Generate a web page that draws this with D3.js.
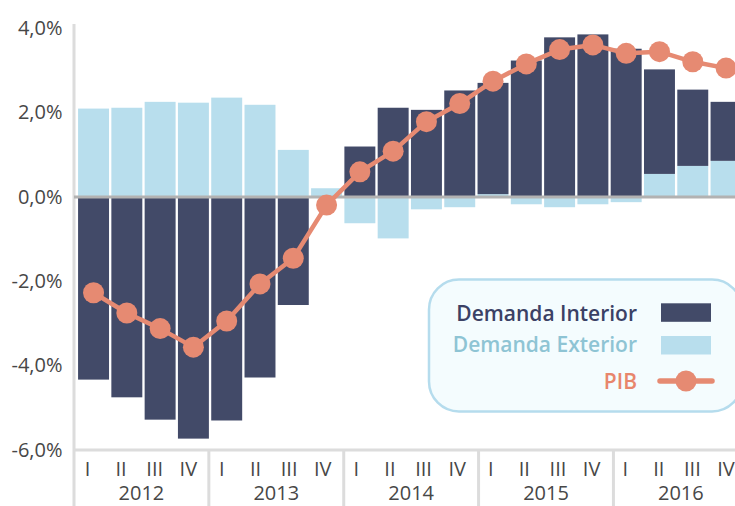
<!DOCTYPE html>
<html>
<head>
<meta charset="utf-8">
<script src="https://cdn.jsdelivr.net/npm/d3@7"></script>
<style>
  html, body { margin: 0; padding: 0; background: #ffffff; }
  svg { display: block; font-family: "Open Sans", "Noto Sans", sans-serif; }
</style>
</head>
<body>
<svg id="chart" width="735" height="506"></svg>
<script>
// ---- data ----
const years = ["2012", "2013", "2014", "2015", "2016"];
const quarterNames = ["I", "II", "III", "IV"];
const quarters = years.flatMap(y => quarterNames.map(q => y + "-" + q));
const interior = [-4.33, -4.75, -5.28, -5.73, -5.30, -4.28, -2.56, 0.00, 1.20, 2.12, 2.07, 2.53, 2.64, 3.24, 3.79, 3.86, 3.52, 2.48, 1.81, 1.40];
const exterior = [2.10, 2.12, 2.26, 2.24, 2.36, 2.19, 1.12, 0.21, -0.62, -0.98, -0.29, -0.24, 0.07, -0.17, -0.24, -0.17, -0.12, 0.55, 0.74, 0.86];
const pib = [-2.27, -2.75, -3.12, -3.56, -2.94, -2.06, -1.45, -0.19, 0.60, 1.09, 1.79, 2.22, 2.75, 3.16, 3.50, 3.61, 3.41, 3.45, 3.21, 3.06];
const yTicks = [4, 2, 0, -2, -4, -6];
const seriesNames = ["Demanda Interior", "Demanda Exterior", "PIB"];

// ---- style ----
const C = {
  interior: "#424a68",
  exterior: "#b8deed",
  pib: "#e68a72",
  axis: "#dcdcdc",
  zero: "#b2b2b2",
  text: "#474747"
};

const svg = d3.select("#chart");
const W = 735, H = 506;

const y = d3.scaleLinear().domain([-6, 4]).range([450, 28.5]);
const xBar = d3.scaleBand().domain(quarters).range([76.9, 742.7]).paddingInner(0.07).paddingOuter(0.035);
const xLab = d3.scalePoint().domain(quarters).range([87.5, 726]);
const xYear = d3.scaleBand().domain(years).range([74, 748.3]);

// stacked segments: exterior first, then interior
const segs = [];
quarters.forEach((q, i) => {
  let pos = 0, neg = 0;
  [["exterior", exterior[i]], ["interior", interior[i]]].forEach(([k, v]) => {
    if (v >= 0) { segs.push({ q, k, y0: pos, y1: pos + v }); pos += v; }
    else { segs.push({ q, k, y0: neg + v, y1: neg }); neg += v; }
  });
});

svg.append("g").selectAll("rect").data(segs).join("rect")
  .attr("x", d => xBar(d.q))
  .attr("width", xBar.bandwidth())
  .attr("y", d => y(d.y1))
  .attr("height", d => Math.max(0, y(d.y0) - y(d.y1)))
  .attr("fill", d => C[d.k]);

// axes lines
const axisG = svg.append("g");
axisG.append("line").attr("x1", 74).attr("x2", 74).attr("y1", 24).attr("y2", H)
  .attr("stroke", C.axis).attr("stroke-width", 3);
axisG.append("line").attr("x1", 74).attr("x2", W).attr("y1", y(-6) ).attr("y2", y(-6))
  .attr("stroke", C.axis).attr("stroke-width", 3);
axisG.selectAll("line.sep").data(years.slice(1)).join("line").attr("class", "sep")
  .attr("x1", d => xYear(d)).attr("x2", d => xYear(d))
  .attr("y1", y(-6)).attr("y2", H)
  .attr("stroke", C.axis).attr("stroke-width", 3);

// zero line
svg.append("line").attr("x1", 74).attr("x2", W).attr("y1", y(0)).attr("y2", y(0))
  .attr("stroke", C.zero).attr("stroke-width", 3);

// y labels
const fmt = v => d3.format(".1f")(v).replace(".", ",").replace("−", "-") + "%";
svg.append("g").selectAll("text").data(yTicks).join("text")
  .attr("x", 62.5).attr("y", d => y(d)).attr("dy", "0.33em")
  .attr("text-anchor", "end").attr("font-size", 20).attr("fill", C.text)
  .text(fmt);

// x labels
svg.append("g").selectAll("text").data(quarters).join("text")
  .attr("x", d => xLab(d)).attr("y", 476)
  .attr("text-anchor", "middle").attr("font-size", 20).attr("fill", C.text)
  .text(d => d.split("-")[1]);
svg.append("g").selectAll("text").data(years).join("text")
  .attr("x", d => xYear(d) + xYear.bandwidth() / 2).attr("y", 500)
  .attr("text-anchor", "middle").attr("font-size", 20).attr("fill", C.text)
  .text(d => d);

// PIB line
const cx = (d, i) => xBar(quarters[i]) + xBar.bandwidth() / 2;
svg.append("path").datum(pib)
  .attr("fill", "none").attr("stroke", C.pib).attr("stroke-width", 4.5)
  .attr("stroke-linejoin", "round")
  .attr("d", d3.line().x(cx).y(d => y(d)));
svg.append("g").selectAll("circle").data(pib).join("circle")
  .attr("cx", cx).attr("cy", d => y(d)).attr("r", 10.5)
  .attr("fill", C.pib);

// legend
const lg = svg.append("g");
lg.append("rect").attr("x", 429).attr("y", 279.5).attr("width", 313).attr("height", 132)
  .attr("rx", 30).attr("fill", "#f4fcfe").attr("stroke", "#b5dced").attr("stroke-width", 2.5);
const legRows = [
  { name: seriesNames[0], color: "#3b4165", base: 320.7, sw: C.interior, sy: 303.3 },
  { name: seriesNames[1], color: "#8ec4d4", base: 351.7, sw: C.exterior, sy: 336 },
  { name: seriesNames[2], color: "#e8866c", base: 389, sw: null, sy: 381 }
];
lg.selectAll("text").data(legRows).join("text")
  .attr("x", 637).attr("y", d => d.base).attr("text-anchor", "end")
  .attr("font-size", 21).attr("font-weight", 600).attr("fill", d => d.color)
  .text(d => d.name);
lg.selectAll("rect.sw").data(legRows.filter(d => d.sw)).join("rect").attr("class", "sw")
  .attr("x", 661).attr("y", d => d.sy).attr("width", 50).attr("height", 18.5)
  .attr("fill", d => d.sw);
lg.append("line").attr("x1", 660).attr("x2", 712).attr("y1", 381).attr("y2", 381)
  .attr("stroke", C.pib).attr("stroke-width", 5.5).attr("stroke-linecap", "round");
lg.append("circle").attr("cx", 686).attr("cy", 381).attr("r", 10.5).attr("fill", C.pib);
</script>
</body>
</html>
